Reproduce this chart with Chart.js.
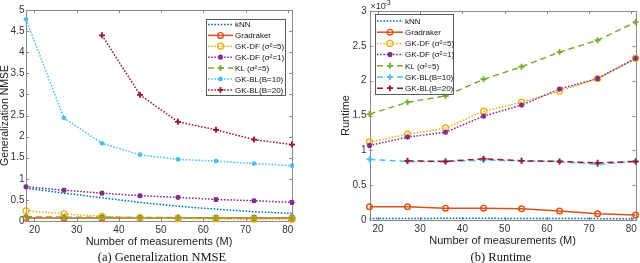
<!DOCTYPE html>
<html><head><meta charset="utf-8">
<script src="https://cdn.jsdelivr.net/npm/chart.js@4.4.1/dist/chart.umd.min.js"></script>
<style>
html,body{margin:0;padding:0;background:#fff;width:640px;height:263px;overflow:hidden}
#wrap{position:relative;width:640px;height:263px}
.pane{position:absolute;top:0;width:320px;height:263px}
.cap{position:absolute;top:250px;line-height:14px;font-family:"Liberation Serif",serif;font-size:12.5px;color:#111;white-space:nowrap;transform:translateX(-50%)}
</style></head><body>
<div id="wrap">
  <div class="pane" style="left:0"><canvas id="c1" width="320" height="263"></canvas></div>
  <div class="pane" style="left:320px"><canvas id="c2" width="320" height="263"></canvas></div>
  <div class="cap" style="left:162px">(a) Generalization NMSE</div>
  <div class="cap" style="left:501px">(b) Runtime</div>
</div>
<script>
// ---------------- DATA ----------------
const M = [18, 27, 36, 45, 54, 63, 72, 81];
const seriesNames = ['kNN', 'Gradraker', 'GK-DF (\u03C3\u00B2=5)', 'GK-DF (\u03C3\u00B2=1)', 'KL (\u03C3\u00B2=5)', 'GK-BL(B=10)', 'GK-BL(B=20)'];

// (a) Generalization NMSE
const nmseKNN       = [0.78, 0.66, 0.55, 0.44, 0.35, 0.28, 0.22, 0.18];
const nmseGradraker = [0.07, 0.07, 0.07, 0.07, 0.07, 0.07, 0.07, 0.07];
const nmseDF5       = [0.24, 0.17, 0.11, 0.08, 0.06, 0.05, 0.04, 0.04];
const nmseDF1       = [0.81, 0.73, 0.66, 0.60, 0.56, 0.51, 0.48, 0.44];
const nmseKL        = [0.10, 0.09, 0.09, 0.08, 0.08, 0.07, 0.07, 0.07];
const nmseBL10      = [4.78, 2.44, 1.84, 1.57, 1.46, 1.42, 1.36, 1.31];
const nmseBL20      = [null, null, 4.40, 2.99, 2.35, 2.16, 1.93, 1.81];

// (b) Runtime (x 10^-3)
const rtKNN       = [0.02, 0.02, 0.025, 0.025, 0.02, 0.02, 0.02, 0.015];
const rtGradraker = [0.19, 0.19, 0.17, 0.17, 0.16, 0.13, 0.09, 0.07];
const rtDF5       = [1.12, 1.23, 1.32, 1.56, 1.69, 1.85, 2.03, 2.32];
const rtDF1       = [1.07, 1.19, 1.26, 1.49, 1.65, 1.88, 2.03, 2.32];
const rtKL        = [1.52, 1.69, 1.78, 2.02, 2.20, 2.41, 2.58, 2.84];
const rtBL10      = [0.87, 0.84, 0.84, 0.86, 0.85, 0.84, 0.80, 0.84];
const rtBL20      = [null, 0.85, 0.84, 0.88, 0.85, 0.84, 0.82, 0.84];

// tick labels
const xTicks    = [20, 30, 40, 50, 60, 70, 80];
const nmseTicks = [0, 0.5, 1, 1.5, 2, 2.5, 3, 3.5, 4, 4.5, 5];
const rtTicks   = [0, 0.5, 1, 1.5, 2, 2.5, 3];
const xTitle = 'Number of measurements (M)';

// ---------------- STYLES ----------------
const COL = ['#0072BD', '#D95319', '#EDB120', '#7E2F8E', '#77AC30', '#4DBEEE', '#A2142F'];
const DOT = [1.6, 1.6], DASH = [6, 4];
// [dash, marker, filled, radius]
const stylesA = [
  [DOT, null, false, 0],
  [[], 'circle', false, 2.8],
  [DOT, 'circle', false, 3.0],
  [DOT, 'star', false, 2.6],
  [DASH, 'cross', false, 3.0],
  [DOT, 'circle', true, 2.4],
  [DOT, 'cross', false, 3.0],
];
const stylesB = [
  [DOT, null, false, 0],
  [[], 'circle', false, 2.8],
  [DOT, 'circle', false, 3.0],
  [DOT, 'star', false, 2.6],
  [DASH, 'cross', false, 3.0],
  [DASH, 'cross', false, 3.0],
  [DASH, 'cross', false, 3.0],
];

function marker(ctx, type, filled, r, x, y, color) {
  if (!type) return;
  ctx.save();
  ctx.setLineDash([]);
  ctx.strokeStyle = color; ctx.fillStyle = color;
  ctx.lineWidth = 1.4;
  ctx.beginPath();
  if (type === 'circle') {
    ctx.arc(x, y, r, 0, Math.PI * 2);
    if (filled) ctx.fill(); else ctx.stroke();
  } else if (type === 'cross') {
    ctx.lineWidth = 1.8;
    ctx.moveTo(x - r, y); ctx.lineTo(x + r, y);
    ctx.moveTo(x, y - r); ctx.lineTo(x, y + r);
    ctx.stroke();
  } else if (type === 'star') {
    ctx.lineWidth = 1.5;
    ctx.moveTo(x - r, y); ctx.lineTo(x + r, y);
    ctx.moveTo(x, y - r); ctx.lineTo(x, y + r);
    const d = r * 0.75;
    ctx.moveTo(x - d, y - d); ctx.lineTo(x + d, y + d);
    ctx.moveTo(x - d, y + d); ctx.lineTo(x + d, y - d);
    ctx.stroke();
  }
  ctx.restore();
}

function makeDatasets(arrs, styles) {
  return arrs.map((arr, i) => {
    const [dash, mk, filled, r] = styles[i];
    return {
      label: seriesNames[i],
      data: M.map((x, k) => ({ x: x, y: arr[k] })),
      borderColor: COL[i],
      backgroundColor: COL[i],
      borderWidth: 1.5,
      borderDash: dash,
      pointRadius: 0,
      pointHoverRadius: 0,
      fill: false,
      tension: 0,
      clip: false,
      spanGaps: false,
      order: arrs.length - i,
      _mk: mk, _filled: filled, _r: r
    };
  });
}

const markerPlugin = {
  id: 'markers',
  afterDatasetsDraw(chart) {
    const ctx = chart.ctx;
    chart.data.datasets.forEach((ds, i) => {
      if (!ds._mk) return;
      const meta = chart.getDatasetMeta(i);
      meta.data.forEach((pt, k) => {
        if (ds.data[k].y === null || ds.data[k].y === undefined) return;
        marker(ctx, ds._mk, ds._filled, ds._r, pt.x, pt.y, ds.borderColor);
      });
    });
  }
};

const boxPlugin = {
  id: 'box',
  beforeDatasetsDraw(chart) {
    const ctx = chart.ctx, a = chart.chartArea;
    const xs = chart.scales.x, ys = chart.scales.y;
    ctx.save();
    ctx.strokeStyle = '#8a8a8a';
    ctx.lineWidth = 1;
    ctx.strokeRect(Math.round(a.left) + 0.5, Math.round(a.top) + 0.5, Math.round(a.right - a.left), Math.round(a.bottom - a.top));
    const tl = 3;
    ctx.beginPath();
    xs.ticks.forEach(t => {
      const px = Math.round(xs.getPixelForValue(t.value)) + 0.5;
      ctx.moveTo(px, a.bottom); ctx.lineTo(px, a.bottom - tl);
      ctx.moveTo(px, a.top); ctx.lineTo(px, a.top + tl);
    });
    ys.ticks.forEach(t => {
      const py = Math.round(ys.getPixelForValue(t.value)) + 0.5;
      ctx.moveTo(a.left, py); ctx.lineTo(a.left + tl, py);
      ctx.moveTo(a.right, py); ctx.lineTo(a.right - tl, py);
    });
    ctx.stroke();
    ctx.restore();
  }
};

const legendPlugin = {
  id: 'mlegend',
  afterDraw(chart, args, opts) {
    const ctx = chart.ctx, a = chart.chartArea;
    const bx = opts.anchorRight ? a.right - opts.dx - opts.w : a.left + opts.dx;
    const by = a.top + opts.dy;
    ctx.save();
    ctx.fillStyle = '#fff';
    ctx.fillRect(bx, by, opts.w, opts.h);
    ctx.strokeStyle = '#333';
    ctx.lineWidth = 0.8;
    ctx.strokeRect(bx + 0.5, by + 0.5, opts.w, opts.h);
    ctx.font = '8px "Liberation Sans", Arial, sans-serif';
    ctx.textBaseline = 'middle';
    chart.data.datasets.forEach((ds, i) => {
      const y = by + opts.y0 + i * opts.step;
      const x1 = bx + opts.lx1, x2 = bx + opts.lx2;
      ctx.save();
      ctx.strokeStyle = ds.borderColor;
      ctx.lineWidth = 1.5;
      ctx.setLineDash(ds.borderDash);
      ctx.beginPath(); ctx.moveTo(x1, y); ctx.lineTo(x2, y); ctx.stroke();
      ctx.restore();
      marker(ctx, ds._mk, ds._filled, ds._r, (x1 + x2) / 2, y, ds.borderColor);
      ctx.fillStyle = '#111';
      ctx.fillText(ds.label, bx + opts.tx, y + 0.5);
    });
    // exponent label
    if (opts.expo) {
      ctx.fillStyle = '#333';
      ctx.textBaseline = 'alphabetic';
      ctx.font = '9px "Liberation Sans", Arial, sans-serif';
      ctx.fillText('\u00D710', a.left + 1, a.top - 2);
      ctx.font = '7px "Liberation Sans", Arial, sans-serif';
      ctx.fillText('-3', a.left + 15, a.top - 6);
    }
    ctx.restore();
  }
};

function fmt(v) { return String(+Number(v).toFixed(2)); }

function makeChart(id, arrs, styles, yTicks, yMax, yTitle, layout, legendOpts) {
  return new Chart(document.getElementById(id), {
    type: 'line',
    data: { datasets: makeDatasets(arrs, styles) },
    options: {
      responsive: false,
      animation: false,
      devicePixelRatio: 1,
      layout: { padding: layout.padding },
      plugins: { legend: { display: false }, tooltip: { enabled: false }, mlegend: legendOpts },
      elements: { line: { borderCapStyle: 'butt' } },
      scales: {
        x: {
          type: 'linear', min: 18, max: 81,
          afterBuildTicks: s => { s.ticks = xTicks.map(v => ({ value: v })); },
          afterFit: s => { s.height = layout.xh; },
          grid: { display: false, drawTicks: false },
          border: { display: false },
          ticks: { color: '#333', padding: 3, maxRotation: 0, font: { family: '"Liberation Sans", Arial', size: 10 }, callback: fmt },
          title: { display: true, text: xTitle, color: '#222', padding: 0, font: { family: '"Liberation Sans", Arial', size: 11 } }
        },
        y: {
          type: 'linear', min: 0, max: yMax,
          afterBuildTicks: s => { s.ticks = yTicks.map(v => ({ value: v })); },
          afterFit: s => { s.width = layout.yw; },
          grid: { display: false, drawTicks: false },
          border: { display: false },
          ticks: { color: '#333', padding: layout.ytp, font: { family: '"Liberation Sans", Arial', size: 10 }, callback: fmt },
          title: { display: true, text: yTitle, color: '#222', padding: 0, font: { family: '"Liberation Sans", Arial', size: layout.yts, lineHeight: layout.ytlh } }
        }
      }
    },
    plugins: [boxPlugin, markerPlugin, legendPlugin]
  });
}

makeChart('c1',
  [nmseKNN, nmseGradraker, nmseDF5, nmseDF1, nmseKL, nmseBL10, nmseBL20],
  stylesA, nmseTicks, 5, 'Generalization NMSE',
  { padding: { left: 0, top: 10, right: 28, bottom: 14 }, xh: 28, yw: 26, ytp: 1.5, yts: 10.5, ytlh: 0.9 },
  { anchorRight: true, dx: 7, dy: 9, w: 79, h: 76, y0: 5.5, step: 10.9, lx1: 2, lx2: 27, tx: 29 });

makeChart('c2',
  [rtKNN, rtGradraker, rtDF5, rtDF1, rtKL, rtBL10, rtBL20],
  stylesB, rtTicks, 3, 'Runtime',
  { padding: { left: 19, top: 11, right: 4, bottom: 15 }, xh: 28, yw: 30.5, ytp: 3, yts: 11, ytlh: 1.2 },
  { anchorRight: false, dx: 5.5, dy: 3, w: 78, h: 80, y0: 7, step: 11.2, lx1: 2, lx2: 28, tx: 30, expo: true });
</script>
</body></html>
